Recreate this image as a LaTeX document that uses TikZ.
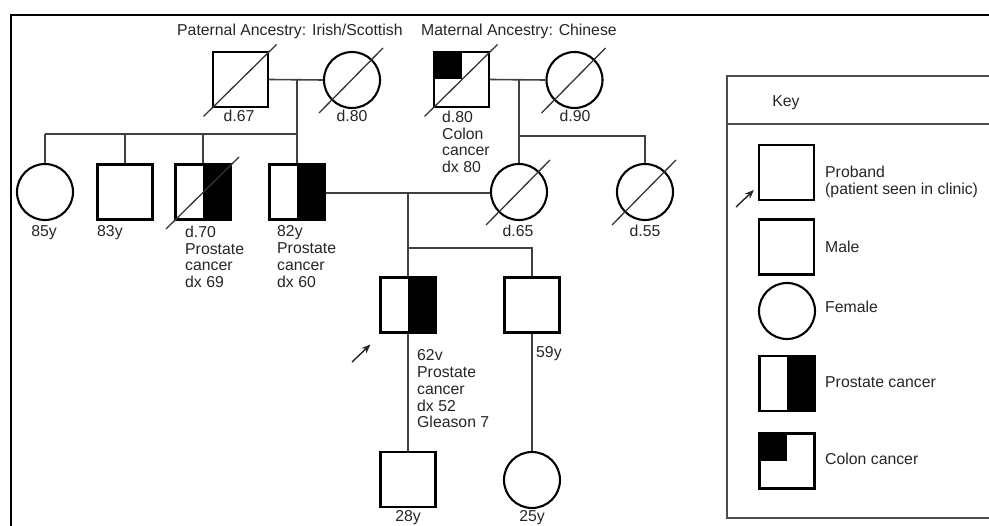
\documentclass[tikz,border=0pt]{standalone}
\usepackage{fontspec}
\setmainfont{Liberation Sans}
\usetikzlibrary{arrows.meta,calc}
\begin{document}
\begin{tikzpicture}[x=1pt,y=-1pt,
  male/.style={rectangle,draw=black,line width=2.1pt,minimum size=55pt,inner sep=0pt,fill=white},
  female/.style={circle,draw=black,line width=2.1pt,minimum size=56pt,inner sep=0pt,fill=white},
  prost/.style={path picture={\fill[black] (path picture bounding box.north) rectangle (path picture bounding box.south east);}},
  colon/.style={path picture={\fill[black] (path picture bounding box.north west) rectangle (path picture bounding box.center);}},
  conn/.style={draw=black!75,line width=1.6pt},
  slash/.style={draw=black!80,line width=1.3pt},
  frame/.style={draw=black,line width=2pt},
  keyframe/.style={draw=black!70,line width=2pt},
  lbl/.style={inner sep=0pt,font=\fontsize{15.8}{16.7}\selectfont,text=black!85,align=left},
  pointer/.style={draw=black!85,line width=1.4pt,-{Stealth[length=9pt,width=7pt]}}
]
\useasboundingbox (0,0) rectangle (989,526);
\fill[white] (0,0) rectangle (989,526);

% frames
\coordinate (ftl) at (11,15);
\coordinate (ftr) at (995,15);
\coordinate (fbl) at (11,530);
\draw[frame] (ftr) -- (ftl) -- (fbl);
\coordinate (ktl) at (727,76);
\coordinate (ktr) at (995,76);
\coordinate (kml) at (727,124);
\coordinate (kmr) at (995,124);
\coordinate (kbl) at (727,518);
\coordinate (kbr) at (995,518);
\draw[keyframe] (ktr) -- (ktl) -- (kbl) -- (kbr);
\draw[keyframe] (kml) -- (kmr);

% headings
\node[lbl,anchor=base west] (hp) at (177,36) {Paternal Ancestry: Irish/Scottish};
\node[lbl,anchor=base west] (hm) at (421,36) {Maternal Ancestry: Chinese};

% generation I
\node[male] (pgf) at (240.5,79.5) {};
\node[female] (pgm) at (352,80) {};
\node[male,colon] (mgf) at (461.5,79.5) {};
\node[female] (mgm) at (574.5,80) {};

% generation II
\node[female] (c1) at (45,192) {};
\node[male] (c2) at (125,192) {};
\node[male,prost] (c3) at (203,192) {};
\node[male,prost] (fa) at (297,192) {};
\node[female] (mo) at (519,192) {};
\node[female] (au) at (645,192) {};

% generation III
\node[male,prost] (pb) at (408,305) {};
\node[male] (br) at (532,305) {};

% generation IV
\node[male] (so) at (408,479.5) {};
\node[female] (ni) at (532,480) {};

% deceased slashes
\foreach \n in {pgf,mgf,c3}{
  \draw[slash] ($(\n.center)+(-37,37)$) -- ($(\n.center)+(36,-35)$);
}
\foreach \n in {pgm,mgm,mo,au}{
  \draw[slash] ($(\n.center)+(-33,33)$) -- ($(\n.center)+(31,-32)$);
}

% connectors
\coordinate (m1) at (297,80);
\coordinate (s1) at (297,134);
\draw[conn] (pgf.east) -- (pgm.west);
\draw[conn] (m1) -- (s1);
\draw[conn] (c1.north |- s1) -- (s1);
\draw[conn] (c1.north |- s1) -- (c1.north);
\draw[conn] (c2.north |- s1) -- (c2.north);
\draw[conn] (c3.north |- s1) -- (c3.north);
\draw[conn] (s1) -- (fa.north);

\coordinate (m2) at (519,79.5);
\coordinate (s2) at (519,136);
\draw[conn] (mgf.east) -- (mgm.west);
\draw[conn] (m2) -- (s2);
\draw[conn] (s2) -- (au.north |- s2) -- (au.north);
\draw[conn] (s2) -- (mo.north);

\coordinate (m3) at (408,193);
\coordinate (s3) at (408,248);
\draw[conn] (fa.east |- m3) -- (mo.west |- m3);
\draw[conn] (m3) -- (s3);
\draw[conn] (s3) -- (br.north |- s3) -- (br.north);
\draw[conn] (s3) -- (pb.north);
\draw[conn] (pb.south) -- (so.north);
\draw[conn] (br.south) -- (ni.north);

% proband arrow
\coordinate (pa) at (352,362);
\draw[pointer] (pa) -- ($(pb.south west)+(-9,11)$);

% labels
\node[lbl,anchor=base] (lpgf) at (239,122) {d.67};
\node[lbl,anchor=base] (lpgm) at (352,122) {d.80};
\node[lbl,anchor=north west] (lmgf) at (442,110.7) {d.80\\Colon\\cancer\\dx 80};
\node[lbl,anchor=base] (lmgm) at (575,122) {d.90};
\node[lbl,anchor=base] (lc1) at (44,237) {85y};
\node[lbl,anchor=base west] (lc2) at (97,237) {83y};
\node[lbl,anchor=north west] (lc3) at (185,225.7) {d.70\\Prostate\\cancer\\dx 69};
\node[lbl,anchor=north west] (lfa) at (277,225.7) {82y\\Prostate\\cancer\\dx 60};
\node[lbl,anchor=base] (lmo) at (518,237) {d.65};
\node[lbl,anchor=base] (lau) at (645,237) {d.55};
\node[lbl,anchor=north west] (lpb) at (417,349.7) {62v\\Prostate\\cancer\\dx 52\\Gleason 7};
\node[lbl,anchor=base west] (lbr) at (536,358) {59y};
\node[lbl,anchor=base] (lso) at (408,522) {28y};
\node[lbl,anchor=base] (lni) at (532,522) {25y};

% key
\node[lbl,anchor=base] (kt) at (786,107) {Key};
\node[male] (kp) at (786.5,172.5) {};
\node[male] (km) at (786.5,247) {};
\node[female] (kf) at (787,311) {};
\node[male,prost] (kpc) at (787,383.5) {};
\node[male,colon] (kcc) at (787,461) {};
\coordinate (ka) at (736,207);
\draw[pointer] (ka) -- ($(kp.south west)+(-4,-11)$);
\node[lbl,anchor=north west] (lkp) at (825,165.7) {Proband\\(patient seen in clinic)};
\node[lbl,anchor=base west] (lkm) at (825,253) {Male};
\node[lbl,anchor=base west] (lkf) at (825,313) {Female};
\node[lbl,anchor=base west] (lkpc) at (825,388) {Prostate cancer};
\node[lbl,anchor=base west] (lkcc) at (825,465) {Colon cancer};
\end{tikzpicture}
\end{document}
